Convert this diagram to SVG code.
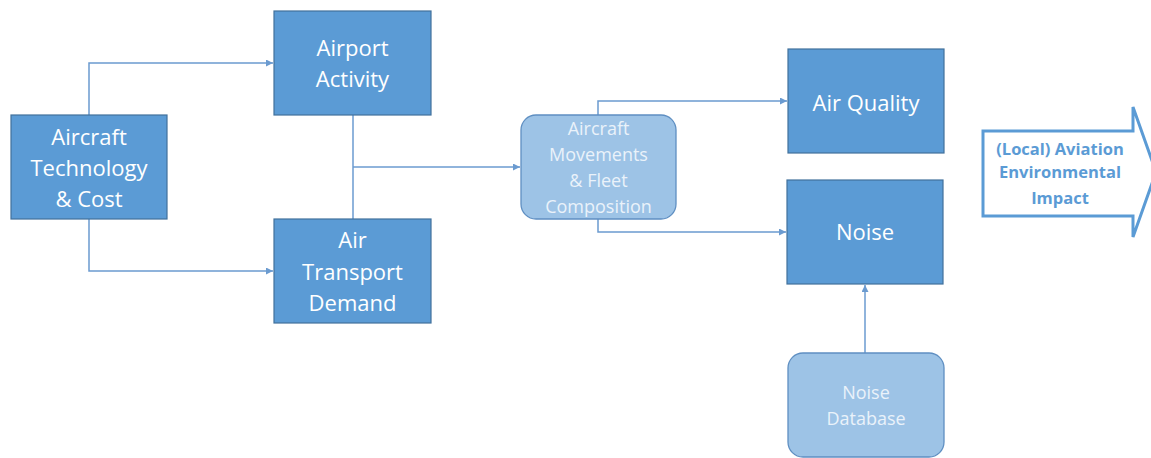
<svg xmlns="http://www.w3.org/2000/svg" width="1151" height="458" viewBox="0 0 1151 458">
<defs>
<style>
.box{fill:#5b9bd5;stroke:#41719c;stroke-width:1.2}
.lbox{fill:#9dc3e6;stroke:#5f8fc2;stroke-width:1.3}
.t{font-family:"Open Sans","Liberation Sans",sans-serif;font-size:22px;fill:#ffffff;text-anchor:middle}
.lt{font-family:"Open Sans","Liberation Sans",sans-serif;font-size:18px;fill:#eaf2fa;text-anchor:middle}
.bt{font-family:"Open Sans","Liberation Sans",sans-serif;font-size:16.5px;font-weight:bold;fill:#5b9bd5;text-anchor:middle}
.c{fill:none;stroke:#6b9bd0;stroke-width:1.5}
</style>
<marker id="ah" viewBox="0 0 10 10" refX="10" refY="5" markerWidth="7" markerHeight="7" markerUnits="userSpaceOnUse" orient="auto">
<path d="M0,0 L10,5 L0,10 z" fill="#6b9bd0"/>
</marker>
</defs>
<rect width="1151" height="458" fill="#ffffff"/>
<g id="connectors">
<path class="c" d="M89,115 V63 H273" marker-end="url(#ah)"/>
<path class="c" d="M89,219 V271 H273" marker-end="url(#ah)"/>
<path class="c" d="M353,115 V219"/>
<path class="c" d="M353,167 H520" marker-end="url(#ah)"/>
<path class="c" d="M598,115 V101 H787" marker-end="url(#ah)"/>
<path class="c" d="M598,219 V232 H786" marker-end="url(#ah)"/>
<path class="c" d="M865,353 V285" marker-end="url(#ah)"/>
</g>
<g id="aircraft-technology">
<rect class="box" x="11" y="115" width="156" height="104"/>
<text class="t" x="89" y="145">Aircraft</text>
<text class="t" x="89" y="176">Technology</text>
<text class="t" x="89" y="207">&amp; Cost</text>
</g>
<g id="airport-activity">
<rect class="box" x="274" y="11" width="157" height="104"/>
<text class="t" x="352.5" y="56">Airport</text>
<text class="t" x="352.5" y="87">Activity</text>
</g>
<g id="air-transport-demand">
<rect class="box" x="274" y="219" width="157" height="104"/>
<text class="t" x="352.5" y="248">Air</text>
<text class="t" x="352.5" y="280">Transport</text>
<text class="t" x="352.5" y="311">Demand</text>
</g>
<g id="aircraft-movements">
<rect class="lbox" x="521" y="115" width="155" height="104" rx="15" ry="15"/>
<text class="lt" x="598.5" y="135">Aircraft</text>
<text class="lt" x="598.5" y="161">Movements</text>
<text class="lt" x="598.5" y="187">&amp; Fleet</text>
<text class="lt" x="598.5" y="213">Composition</text>
</g>
<g id="air-quality">
<rect class="box" x="788" y="49" width="156" height="104"/>
<text class="t" x="866" y="111">Air Quality</text>
</g>
<g id="noise">
<rect class="box" x="787" y="180" width="156" height="104"/>
<text class="t" x="865" y="240">Noise</text>
</g>
<g id="noise-database">
<rect class="lbox" x="788" y="353" width="156" height="104" rx="15" ry="15"/>
<text class="lt" x="866" y="399">Noise</text>
<text class="lt" x="866" y="425">Database</text>
</g>
<g id="impact-arrow">
<path d="M983,131 H1133 V107 L1156,172 L1133,237 V216 H983 Z" fill="#ffffff" stroke="#5b9bd5" stroke-width="3" stroke-linejoin="miter"/>
<text class="bt" x="1060" y="155">(Local) Aviation</text>
<text class="bt" x="1060" y="178">Environmental</text>
<text class="bt" x="1060" y="204">Impact</text>
</g>
</svg>
